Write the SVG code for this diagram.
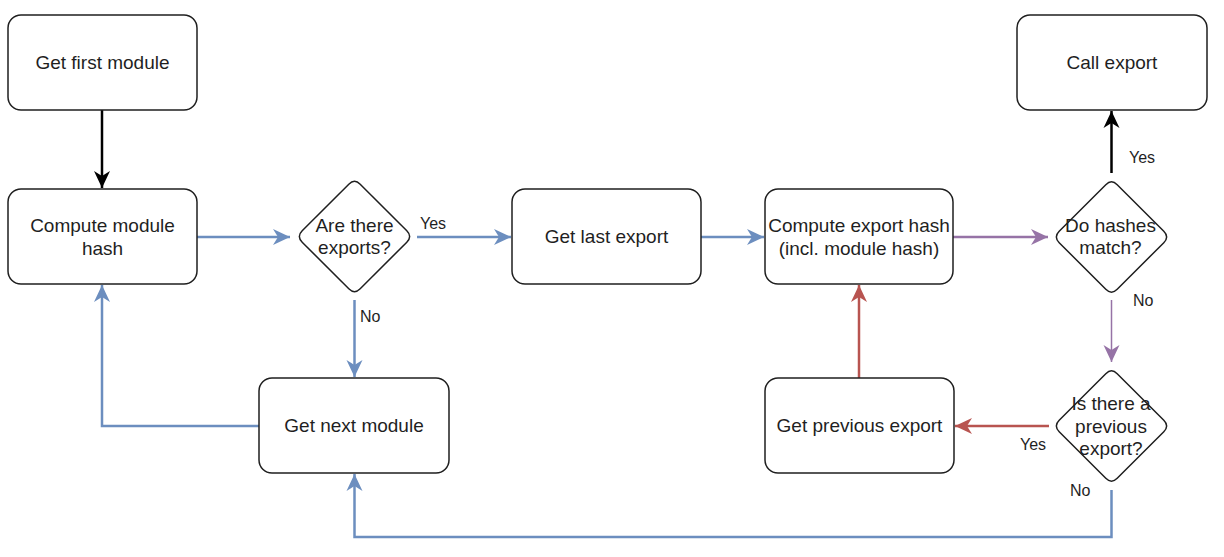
<svg xmlns="http://www.w3.org/2000/svg" xmlns:xlink="http://www.w3.org/1999/xlink" width="1224" height="557" viewBox="0 0 1224 557">
<style>
.box{fill:#fff;stroke:#1f1f1f;stroke-width:1.5}
.t{font-family:"Liberation Sans",Arial,sans-serif;font-size:19px;fill:#1f1f1f;text-anchor:middle}
.l{font-family:"Liberation Sans",Arial,sans-serif;font-size:16px;fill:#1f1f1f}
.c{fill:none;stroke-width:2.5}
.k{stroke:#000}
.b{stroke:#6c8ebf}
.p{stroke:#9673a6}
.r{stroke:#b85450}
</style>
<defs>
<path id="dia" d="M5.7,-52.3 L52.3,-5.7 Q58,0 52.3,5.7 L5.7,52.3 Q0,58 -5.7,52.3 L-52.3,5.7 Q-58,0 -52.3,-5.7 L-5.7,-52.3 Q0,-58 5.7,-52.3 Z"/>
<marker id="ak" markerUnits="userSpaceOnUse" markerWidth="18" markerHeight="18" viewBox="0 0 18 18" refX="17" refY="9" orient="auto"><path d="M0,1 L17,9 L0,17 L5,9 Z" fill="#000"/></marker>
<marker id="ab" markerUnits="userSpaceOnUse" markerWidth="18" markerHeight="18" viewBox="0 0 18 18" refX="17" refY="9" orient="auto"><path d="M0,1 L17,9 L0,17 L5,9 Z" fill="#6c8ebf"/></marker>
<marker id="ap" markerUnits="userSpaceOnUse" markerWidth="18" markerHeight="18" viewBox="0 0 18 18" refX="17" refY="9" orient="auto"><path d="M0,1 L17,9 L0,17 L5,9 Z" fill="#9673a6"/></marker>
<marker id="ar" markerUnits="userSpaceOnUse" markerWidth="18" markerHeight="18" viewBox="0 0 18 18" refX="17" refY="9" orient="auto"><path d="M0,1 L17,9 L0,17 L5,9 Z" fill="#b85450"/></marker>
</defs>
<rect width="1224" height="557" fill="#fff"/>
<g id="connectors">
<path class="c k" d="M102,110 L102,188" marker-end="url(#ak)"/>
<path class="c b" d="M197,237 L290,237" marker-end="url(#ab)"/>
<path class="c b" d="M417,237 L511,237" marker-end="url(#ab)"/>
<path class="c b" d="M354.5,300 L354.5,377" marker-end="url(#ab)"/>
<path class="c b" d="M701,237 L764,237" marker-end="url(#ab)"/>
<path class="c p" d="M953,237 L1048,237" marker-end="url(#ap)"/>
<path class="c k" d="M1111.5,173 L1111.5,111" marker-end="url(#ak)"/>
<path class="c p" style="stroke-width:1.5" d="M1111.5,300 L1111.5,362" marker-end="url(#ap)"/>
<path class="c r" d="M1049,426 L955,426" marker-end="url(#ar)"/>
<path class="c r" d="M859,378 L859,285" marker-end="url(#ar)"/>
<path class="c b" d="M1111.5,490 L1111.5,537 L354.5,537 L354.5,474" marker-end="url(#ab)"/>
<path class="c b" d="M259,426 L102,426 L102,285" marker-end="url(#ab)"/>
<text class="l" x="420" y="229">Yes</text>
<text class="l" x="360" y="322">No</text>
<text class="l" x="1129" y="163">Yes</text>
<text class="l" x="1133" y="306">No</text>
<text class="l" x="1020" y="450">Yes</text>
<text class="l" x="1070" y="496">No</text>
</g>
<g id="get-first-module"><rect class="box" x="8" y="15" width="189" height="95" rx="13"/><text class="t" x="102.5" y="69">Get first module</text></g>
<g id="compute-module-hash"><rect class="box" x="8" y="189" width="189" height="95" rx="13"/><text class="t" x="102.5" y="232">Compute module</text><text class="t" x="102.5" y="255">hash</text></g>
<g id="are-there-exports"><use href="#dia" class="box" x="354.5" y="236.5"/><text class="t" x="354.5" y="232">Are there</text><text class="t" x="354.5" y="254">exports?</text></g>
<g id="get-last-export"><rect class="box" x="512" y="189" width="189" height="95" rx="13"/><text class="t" x="606.5" y="243">Get last export</text></g>
<g id="compute-export-hash"><rect class="box" x="765" y="189" width="188" height="95" rx="13"/><text class="t" x="859" y="232">Compute export hash</text><text class="t" x="859" y="255">(incl. module hash)</text></g>
<g id="do-hashes-match"><use href="#dia" class="box" x="1111.5" y="237"/><text class="t" x="1110.5" y="232">Do hashes</text><text class="t" x="1110.5" y="254">match?</text></g>
<g id="call-export"><rect class="box" x="1017" y="15" width="190" height="95" rx="13"/><text class="t" x="1112" y="69">Call export</text></g>
<g id="is-there-previous-export"><use href="#dia" class="box" x="1111.5" y="426"/><text class="t" x="1111" y="410">Is there a</text><text class="t" x="1111" y="433">previous</text><text class="t" x="1111" y="455">export?</text></g>
<g id="get-previous-export"><rect class="box" x="765" y="378" width="189" height="95" rx="13"/><text class="t" x="859.5" y="432">Get previous export</text></g>
<g id="get-next-module"><rect class="box" x="259" y="378" width="190" height="95" rx="13"/><text class="t" x="354" y="432">Get next module</text></g>
</svg>
